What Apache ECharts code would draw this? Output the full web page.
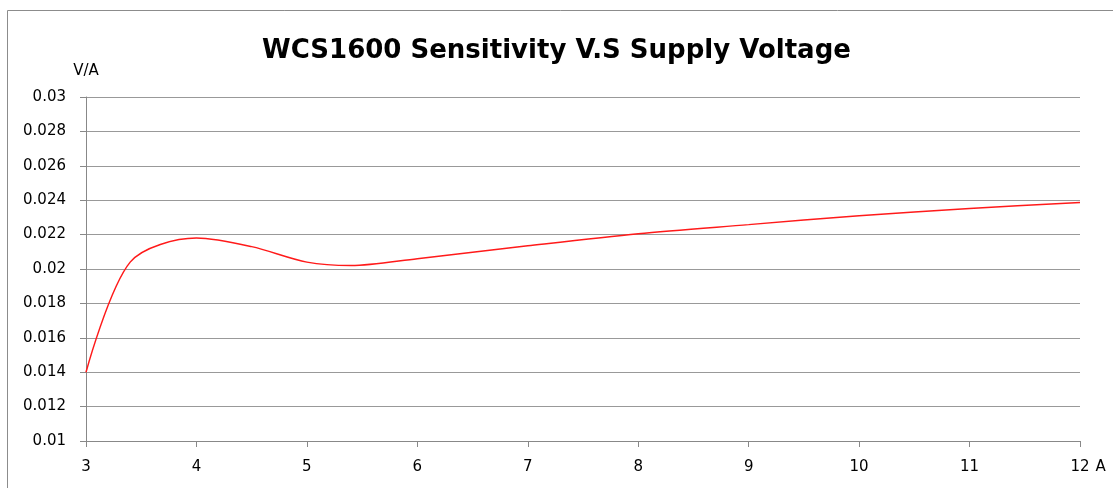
<!DOCTYPE html>
<html>
<head>
<meta charset="utf-8">
<script src="https://cdn.jsdelivr.net/npm/echarts@6/dist/echarts.min.js"></script>
<style>
  html, body { margin: 0; padding: 0; background: #fff; }
  #chart { width: 1113px; height: 488px; }
</style>
</head>
<body>
<div id="chart"></div>
<script>
// supply voltage (x) and sensitivity V/A (y)
var voltage = [3, 3.4, 4, 4.5, 5, 5.4, 6, 7, 8, 9, 10, 11, 12];
var sensitivity = [0.014, 0.0204, 0.0218, 0.0213, 0.0204, 0.0202, 0.0206, 0.02135, 0.02205, 0.02258, 0.0231, 0.02352, 0.02386];

var seriesData = voltage.map(function (v, i) { return [v, sensitivity[i]]; });

var chartDom = document.getElementById('chart');
var myChart = echarts.init(chartDom);
var option;

option = {
  backgroundColor: '#fff',
  animation: false,
  title: {
    text: 'WCS1600 Sensitivity V.S Supply Voltage',
    left: 'center',
    top: 33,
    textStyle: {
      fontFamily: 'DejaVu Sans',
      fontWeight: 'bold',
      fontSize: 26,
      color: '#000'
    }
  },
  graphic: [
    {
      type: 'rect',
      shape: { x: 7.5, y: 10.5, width: 1200, height: 600 },
      style: { fill: 'none', stroke: '#8c8c8c', lineWidth: 1 },
      z: -1
    }
  ],
  grid: {
    left: 86,
    right: 33,
    top: 97,
    bottom: 47
  },
  xAxis: {
    type: 'value',
    min: 3,
    max: 12,
    interval: 1,
    name: 'A',
    nameLocation: 'end',
    nameGap: 14,
    nameTextStyle: {
      fontFamily: 'DejaVu Sans',
      fontSize: 15,
      color: '#000',
      verticalAlign: 'top',
      padding: [19, 0, 0, 0]
    },
    axisLine: { lineStyle: { color: '#888', width: 1 } },
    axisTick: { show: true, length: 6, lineStyle: { color: '#888' } },
    axisLabel: {
      margin: 19,
      fontFamily: 'DejaVu Sans',
      fontSize: 15,
      color: '#000'
    },
    splitLine: { show: false }
  },
  yAxis: {
    type: 'value',
    min: 0.01,
    max: 0.03,
    interval: 0.002,
    name: 'V/A',
    nameLocation: 'end',
    nameGap: 18,
    nameTextStyle: {
      fontFamily: 'DejaVu Sans',
      fontSize: 15,
      color: '#000'
    },
    axisLine: { show: true, lineStyle: { color: '#888', width: 1 } },
    axisTick: { show: true, length: 6, lineStyle: { color: '#888' } },
    axisLabel: {
      margin: 20,
      fontFamily: 'DejaVu Sans',
      fontSize: 15,
      color: '#000',
      formatter: function (v) { return String(parseFloat(v.toFixed(3))); }
    },
    splitLine: { show: true, lineStyle: { color: '#999', width: 1 } }
  },
  series: [
    {
      type: 'line',
      data: seriesData,
      smooth: 0.3,
      showSymbol: false,
      lineStyle: { color: '#ff1a1a', width: 1.5 },
      itemStyle: { color: '#ff1a1a' }
    }
  ]
};

option && myChart.setOption(option);

window.addEventListener('resize', function () {
  myChart.resize();
});
</script>
</body>
</html>
